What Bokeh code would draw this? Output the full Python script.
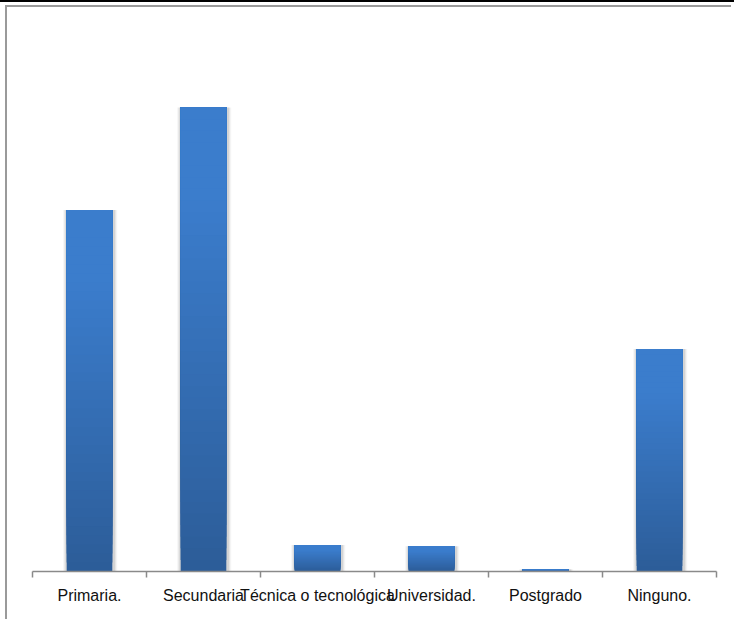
from bokeh.plotting import figure
from bokeh.models import Range1d, FixedTicker
from bokeh.embed import file_html
from bokeh.resources import INLINE

# Data
categories = ["Primaria.", "Secundaria", "Técnica o tecnológica", "Universidad.", "Postgrado", "Ninguno."]
values = [32.8, 42.1, 2.4, 2.3, 0.2, 20.2]

W, H = 726, 614
p = figure(width=W, height=H, output_backend="svg", toolbar_location=None,
           x_range=Range1d(0, len(categories)), y_range=Range1d(0, 50),
           min_border_left=25, min_border_right=17, min_border_top=13, min_border_bottom=50)
p.styles = {"margin-left": "5px", "margin-top": "5px",
            "border-left": "2px solid #9a9a9a", "border-top": "2px solid #9a9a9a",
            "box-shadow": "0px -622px 0px 5px #000000"}
p.outline_line_color = None
p.xgrid.visible = False
p.ygrid.visible = False
p.yaxis.visible = False
p.background_fill_color = "white"
p.border_fill_color = "white"

xs = [i + 0.5 for i in range(len(categories))]

# soft shadow
for dw, a in [(0.075, 0.04), (0.055, 0.06), (0.035, 0.08)]:
    p.vbar(x=[x + 0.006 for x in xs], width=0.4 + dw, top=values, bottom=0,
           fill_color="black", fill_alpha=a, line_color=None)

# gradient bars (each layer covers from its level to the top, so no seams)
N = 40
top_c = (59, 125, 204)
bot_c = (44, 92, 152)
for i in range(N):
    f0 = i / N
    tmid = 1 - (f0 + 0.5 / N)  # 0 at top, 1 at bottom
    t = max(0.0, (tmid - 0.2) / 0.8)
    c = tuple(int(round(top_c[j] + (bot_c[j] - top_c[j]) * t)) for j in range(3))
    col = "#%02x%02x%02x" % c
    p.vbar(x=xs, width=0.4, bottom=[v * f0 for v in values], top=values,
           fill_color=col, line_color=None)

ax = p.xaxis[0]
ax.ticker = FixedTicker(ticks=xs, minor_ticks=list(range(len(categories) + 1)))
ax.major_label_overrides = {x: c for x, c in zip(xs, categories)}
ax.major_tick_line_color = None
ax.major_tick_out = 0
ax.major_tick_in = 0
ax.minor_tick_line_color = "#8a8a8a"
ax.minor_tick_out = 6
ax.minor_tick_in = 0
ax.axis_line_color = "#8a8a8a"
ax.axis_line_width = 1.5
ax.minor_tick_line_width = 1.5
ax.major_label_standoff = 9
ax.major_label_text_font = "Liberation Sans"
ax.major_label_text_font_size = "16px"
ax.major_label_text_color = "#111111"

open("out.html", "w").write(file_html(p, INLINE))
